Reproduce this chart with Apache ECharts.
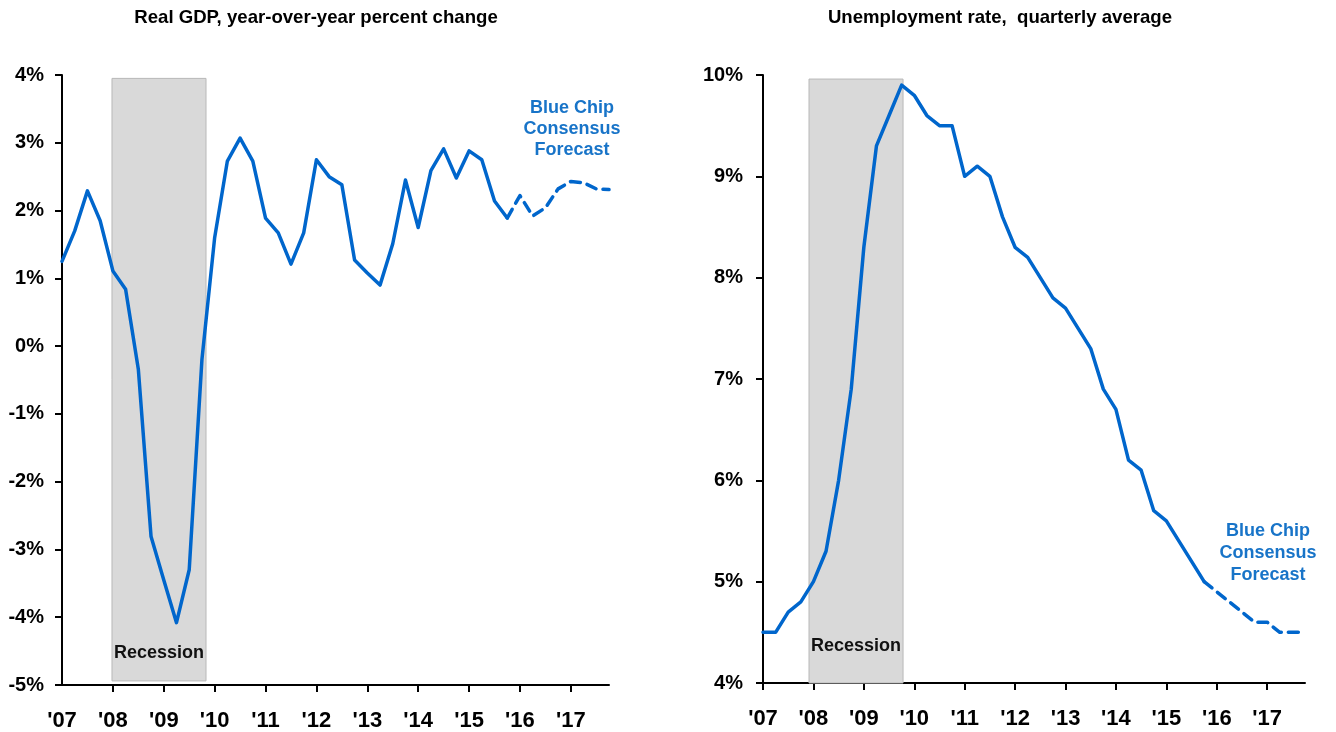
<!DOCTYPE html>
<html>
<head>
<meta charset="utf-8">
<title>GDP and unemployment</title>
<script src="https://cdn.jsdelivr.net/npm/echarts@6.0.0/dist/echarts.min.js"></script>
<style>
  html, body {margin: 0; padding: 0; background: #fff;}
  #chart {width: 1336px; height: 732px;}
</style>
</head>
<body>
<div id="chart"></div>
<script>
// quarterly, 2007Q1 .. 2017Q4 (index 0..43)
const years = ['07', '08', '09', '10', '11', '12', '13', '14', '15', '16', '17'];

// real GDP, yoy % change, 2007Q1 .. 2015Q4
const gdpActual = [
  1.25, 1.70, 2.29, 1.85, 1.11, 0.84, -0.34, -2.81,
  -3.45, -4.08, -3.30, -0.20, 1.60, 2.73, 3.07, 2.73,
  1.89, 1.67, 1.21, 1.67, 2.75, 2.50, 2.38, 1.27,
  1.08, 0.90, 1.51, 2.45, 1.75, 2.59, 2.91, 2.48,
  2.88, 2.75, 2.14, 1.89
];
// Blue Chip forecast, 2015Q4 .. 2017Q4
const gdpForecast = [1.89, 2.22, 1.92, 2.04, 2.32, 2.43, 2.41, 2.32, 2.31];

// unemployment rate, quarterly avg, 2007Q1 .. 2015Q4
const urActual = [
  4.5, 4.5, 4.7, 4.8, 5.0, 5.3, 6.0, 6.9,
  8.3, 9.3, 9.6, 9.9, 9.8, 9.6, 9.5, 9.5,
  9.0, 9.1, 9.0, 8.6, 8.3, 8.2, 8.0, 7.8,
  7.7, 7.5, 7.3, 6.9, 6.7, 6.2, 6.1, 5.7,
  5.6, 5.4, 5.2, 5.0
];
const urForecast = [5.0, 4.9, 4.8, 4.7, 4.6, 4.6, 4.5, 4.5, 4.5];

// recession shading, in quarter index units
const gdpRecession = [3.93, 11.32];
const urRecession = [3.65, 11.11];

const lastQ = years.length * 4 - 1;
const forecastStart = gdpActual.length - 1;
const labelTicks = years.map((y, i) => i * 4);
const innerTicks = labelTicks.slice(1);

const toPairs = (arr, offset) => arr.map((v, i) => [i + offset, v]);

const blue = '#0066cc';
const textBlue = '#1874c8';
const font = 'Liberation Sans, Arial, sans-serif';

const yLabel = {
  formatter: '{value}%',
  fontFamily: font,
  fontWeight: 'bold',
  fontSize: 20,
  color: '#000'
};
const xLabel = {
  customValues: labelTicks,
  formatter: (v) => "'" + years[Math.round(v / 4)],
  fontFamily: font,
  fontWeight: 'bold',
  fontSize: 22,
  color: '#000',
  margin: 25
};
const axisLine = {show: true, onZero: false, lineStyle: {color: '#000', width: 2}};
const axisTick = {show: true, length: 7, lineStyle: {color: '#000', width: 2}};

const recessionArea = (range, yTop, yBottom, dist) => ({
  silent: true,
  itemStyle: {color: '#d9d9d9', borderColor: '#b8b8b8', borderWidth: 1},
  label: {
    show: true,
    position: 'insideBottom',
    distance: dist,
    formatter: 'Recession',
    fontFamily: font,
    fontWeight: 'bold',
    fontSize: 18,
    color: '#111'
  },
  data: [[{xAxis: range[0], yAxis: yTop}, {xAxis: range[1], yAxis: yBottom}]]
});

const lineSeries = (data, xi, yi, dashed, extra) => Object.assign({
  type: 'line',
  xAxisIndex: xi,
  yAxisIndex: yi,
  data: data,
  symbol: 'none',
  z: 3,
  lineStyle: {color: blue, width: 3.5, type: dashed ? [10, 7] : 'solid', cap: 'round', join: 'round'},
  itemStyle: {color: blue}
}, extra || {});

const chart = echarts.init(document.getElementById('chart'));

chart.setOption({
  animation: false,
  grid: [
    {left: 62, top: 75, width: 547, height: 610},
    {left: 763, top: 75, width: 542, height: 608}
  ],
  xAxis: [
    // left chart: labels along the bottom
    {
      type: 'value', gridIndex: 0, min: 0, max: lastQ, position: 'bottom',
      axisLine: {show: false}, axisTick: {show: false}, splitLine: {show: false},
      axisLabel: xLabel
    },
    // left chart: axis line through zero
    {
      type: 'value', gridIndex: 0, min: 0, max: lastQ, position: 'bottom',
      axisLine: {show: true, onZero: true, lineStyle: {color: '#000', width: 2}},
      axisTick: Object.assign({customValues: innerTicks}, axisTick),
      axisLabel: {show: false}, splitLine: {show: false}
    },
    // right chart
    {
      type: 'value', gridIndex: 1, min: 0, max: lastQ, position: 'bottom',
      axisLine: axisLine,
      axisTick: Object.assign({customValues: labelTicks}, axisTick),
      axisLabel: xLabel, splitLine: {show: false}
    }
  ],
  yAxis: [
    {
      type: 'value', gridIndex: 0, min: -5, max: 4, interval: 1,
      axisLine: axisLine, axisTick: axisTick, splitLine: {show: false},
      axisLabel: Object.assign({margin: 18}, yLabel)
    },
    {
      type: 'value', gridIndex: 1, min: 4, max: 10, interval: 1,
      axisLine: axisLine, axisTick: axisTick, splitLine: {show: false},
      axisLabel: Object.assign({margin: 20}, yLabel)
    }
  ],
  series: [
    lineSeries(toPairs(gdpActual, 0), 1, 0, false,
      {markArea: recessionArea(gdpRecession, 3.95, -4.94, 19)}),
    lineSeries(toPairs(gdpForecast, forecastStart), 1, 0, true),
    lineSeries(toPairs(urActual, 0), 2, 1, false,
      {markArea: recessionArea(urRecession, 9.96, 4, 28)}),
    lineSeries(toPairs(urForecast, forecastStart), 2, 1, true)
  ],
  graphic: [
    {
      type: 'text', x: 316, y: 18,
      style: {text: 'Real GDP, year-over-year percent change', font: 'bold 18.6px ' + font,
        fill: '#000', align: 'center', verticalAlign: 'middle'}
    },
    {
      type: 'text', x: 1000, y: 18,
      style: {text: 'Unemployment rate,  quarterly average', font: 'bold 18.6px ' + font,
        fill: '#000', align: 'center', verticalAlign: 'middle'}
    },
    {
      type: 'text', x: 572, y: 129,
      style: {text: 'Blue Chip\nConsensus\nForecast', font: 'bold 18px ' + font, lineHeight: 21,
        fill: textBlue, align: 'center', verticalAlign: 'middle'}
    },
    {
      type: 'text', x: 1268, y: 553,
      style: {text: 'Blue Chip\nConsensus\nForecast', font: 'bold 18px ' + font, lineHeight: 22,
        fill: textBlue, align: 'center', verticalAlign: 'middle'}
    }
  ]
});
</script>
</body>
</html>
